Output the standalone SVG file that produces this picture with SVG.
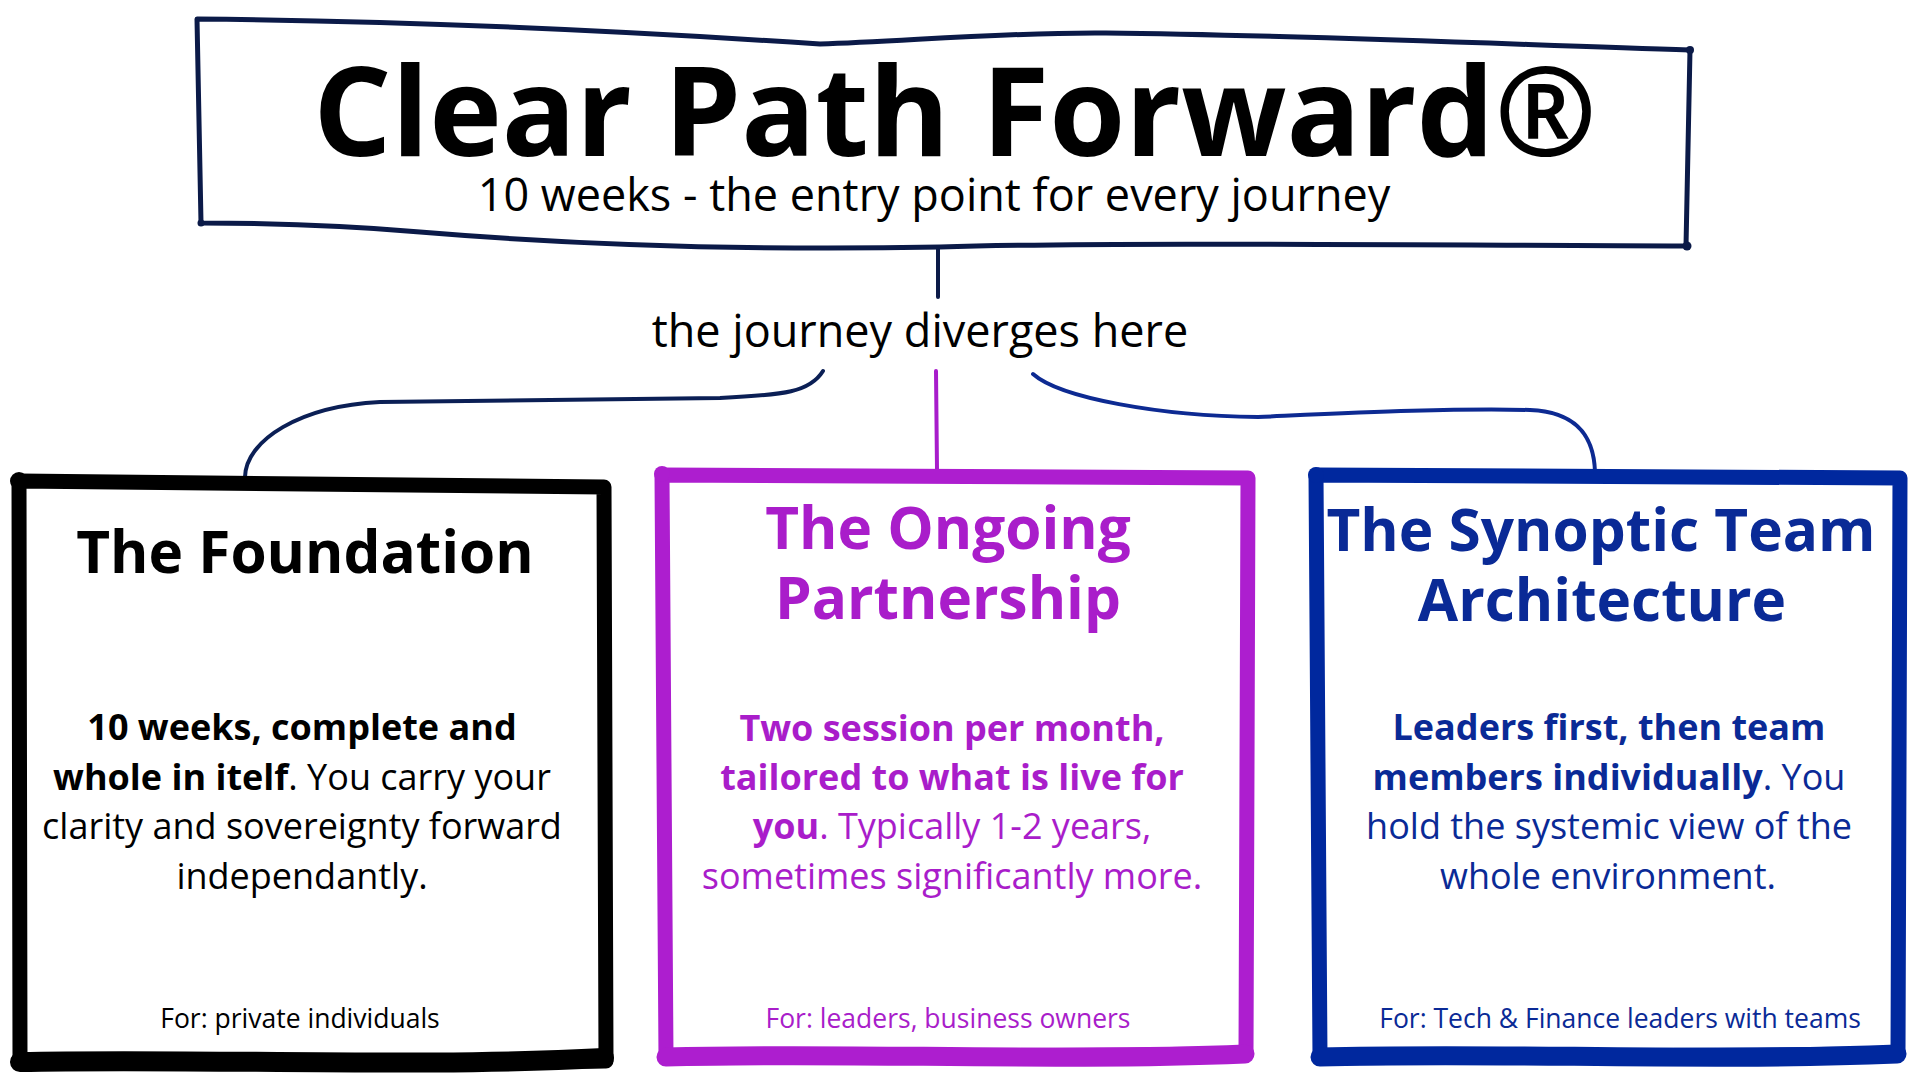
<svg xmlns="http://www.w3.org/2000/svg" width="1920" height="1080" viewBox="0 0 1920 1080">
  <style>
    .t { font-family: 'Open Sans', 'Liberation Sans', sans-serif; text-anchor: middle; }
    .b { font-weight: 700; }
    .r { font-weight: 400; }
    .title { font-size: 123px; font-weight: 700; fill: #000; }
    .sub { font-size: 45px; fill: #000; }
    .h { font-size: 58.5px; font-weight: 700; }
    .body { font-size: 36px; }
    .foot { font-size: 26.5px; }
    .blk { fill: #000; }
    .pur { fill: #a91dca; }
    .blu { fill: #0a2a96; }
    .edge { fill: none; stroke-linejoin: round; stroke-linecap: round; }
    .conn { fill: none; stroke-width: 4; stroke-linecap: round; }
  </style>
  <rect width="1920" height="1080" fill="#ffffff"/>

  <g id="title-node">
    <path class="edge" stroke="#0b1a48" stroke-width="5"
      d="M197,19 C420,21 640,32 820,44 C900,42 1000,32 1106,33 C1300,35 1500,44 1690,50 L1686,246 C1400,245 1100,242 940,247 C780,250 600,247 420,232 C330,224 260,223 201,223 Z"/>
    <circle cx="1690" cy="50" r="4" fill="#0b1a48"/>
    <circle cx="1687" cy="246" r="4.5" fill="#0b1a48"/>
    <circle cx="201" cy="223" r="3.5" fill="#0b1a48"/>
    <text class="t title" x="955" y="156">Clear Path Forward®</text>
    <text class="t sub r" x="934" y="211">10 weeks - the entry point for every journey</text>
  </g>

  <g id="connectors">
    <path class="conn" stroke="#0b1a48" d="M938,247 L938,297"/>
    <path class="conn" stroke="#0b1f55" d="M823,371 C810,392 785,395 720,398 L380,402 C300,406 246,440 245,477"/>
    <path class="conn" stroke="#a81ccb" d="M936,371 L937,470"/>
    <path class="conn" stroke="#0d2a92" d="M1033,374 C1060,398 1160,416 1258,417 C1350,413 1450,408 1530,410 C1580,412 1594,440 1595,472"/>
  </g>

  <g id="divergence-label">
    <text class="t sub r" x="920" y="347">the journey diverges here</text>
  </g>

  <g id="the-foundation">
    <path class="edge" stroke="#000" stroke-width="15" d="M19,481 L604,487 L606,1061 L20,1063 Z"/>
    <path class="edge" stroke="#000" stroke-width="20" d="M20,1062 C200,1058 420,1068 604,1058"/>
    <circle cx="19" cy="481" r="9" fill="#000"/>
    <text class="t h blk" x="305" y="573">The Foundation</text>
    <text class="t body blk" x="302" y="740"><tspan class="b">10 weeks, complete and</tspan></text>
    <text class="t body blk" x="302" y="790"><tspan class="b">whole in itelf</tspan><tspan class="r">. You carry your</tspan></text>
    <text class="t body blk r" x="302" y="839">clarity and sovereignty forward</text>
    <text class="t body blk r" x="302" y="889">independantly.</text>
    <text class="t foot blk r" x="300" y="1028">For: private individuals</text>
  </g>

  <g id="the-ongoing-partnership">
    <path class="edge" stroke="#ad1ecf" stroke-width="15" d="M662,475 L1248,478 L1246,1054 L666,1058 Z"/>
    <path class="edge" stroke="#ad1ecf" stroke-width="19" d="M666,1057 C850,1052 1050,1062 1245,1054"/>
    <circle cx="662" cy="474" r="8" fill="#ad1ecf"/>
    <text class="t h pur" x="948" y="549">The Ongoing</text>
    <text class="t h pur" x="948" y="619">Partnership</text>
    <text class="t body pur b" x="952" y="741">Two session per month,</text>
    <text class="t body pur b" x="952" y="790">tailored to what is live for</text>
    <text class="t body pur" x="952" y="839"><tspan class="b">you</tspan><tspan class="r">. Typically 1-2 years,</tspan></text>
    <text class="t body pur r" x="952" y="889">sometimes significantly more.</text>
    <text class="t foot pur r" x="948" y="1028">For: leaders, business owners</text>
  </g>

  <g id="the-synoptic-team-architecture">
    <path class="edge" stroke="#00289e" stroke-width="15" d="M1316,475 L1900,478 L1898,1054 L1320,1058 Z"/>
    <path class="edge" stroke="#00289e" stroke-width="19" d="M1320,1057 C1500,1052 1700,1062 1897,1054"/>
    <circle cx="1316" cy="475" r="8" fill="#00289e"/>
    <text class="t h blu" x="1601" y="551">The Synoptic Team</text>
    <text class="t h blu" x="1602" y="621">Architecture</text>
    <text class="t body blu b" x="1609" y="740">Leaders first, then team</text>
    <text class="t body blu" x="1609" y="790"><tspan class="b">members individually</tspan><tspan class="r">. You</tspan></text>
    <text class="t body blu r" x="1609" y="839">hold the systemic view of the</text>
    <text class="t body blu r" x="1608" y="889">whole environment.</text>
    <text class="t foot blu r" x="1620" y="1028">For: Tech &amp; Finance leaders with teams</text>
  </g>
</svg>
